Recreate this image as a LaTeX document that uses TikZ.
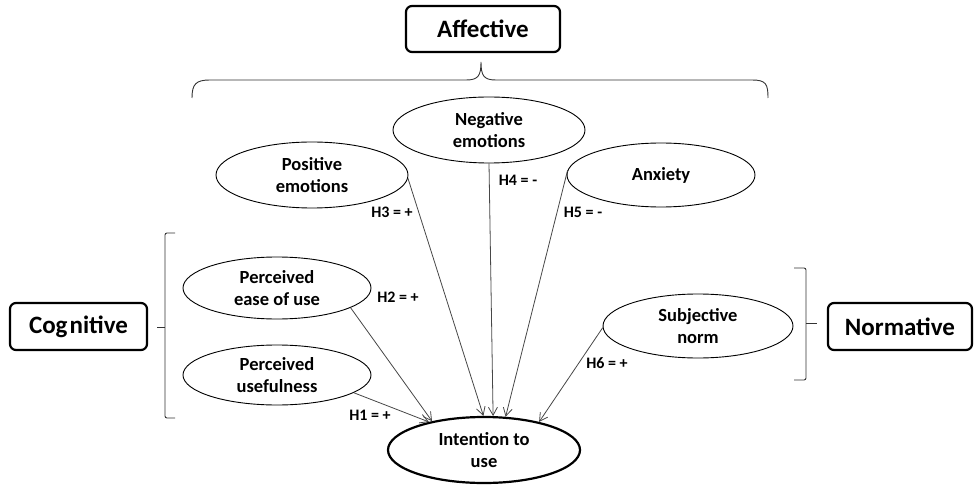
\documentclass[tikz,border=0pt]{standalone}
\usepackage{fontspec}
\setmainfont{Carlito}
\usetikzlibrary{arrows.meta,shapes.geometric}
\begin{document}
\begin{tikzpicture}[x=1pt,y=-1pt,
  group/.style={draw, line width=2.2pt, rounded corners=6pt, inner sep=0pt,
    font=\bfseries\fontsize{25}{29}\selectfont},
  factor/.style={draw, ellipse, line width=0.9pt, inner sep=0pt, align=center,
    font=\bfseries\fontsize{18.5}{22}\selectfont},
  hyp/.style={inner sep=0pt, font=\bfseries\fontsize{16}{18}\selectfont},
  link/.style={draw=black!72, line width=0.8pt, -{Straight Barb[length=8pt,width=9pt]}},
  bracket/.style={draw=black!80, line width=0.9pt}]
\useasboundingbox (0,0) rectangle (976,486);

% construct groups
\node[group, minimum width=154pt, minimum height=46pt] (aff) at (483,29) {Affective};
\node[group, minimum width=137pt, minimum height=47pt] (cog) at (78.5,326.5) {Cog\kern2pt nitive};
\node[group, minimum width=144pt, minimum height=47pt] (nor) at (900,326.5) {Normative};

% brace under the affective group
\draw[bracket] (192,98) .. controls (192,84) and (196,80) .. (210,80) -- (466,80)
  .. controls (478,80) and (481,76) .. (481,62)
  .. controls (481,76) and (484,80) .. (496,80) -- (752,80)
  .. controls (766,80) and (768,84) .. (768,98);

% bracket of the cognitive group
\draw[bracket, rounded corners=2pt] (175,233) -- (165,233) -- (165,418) -- (175,418);
\draw[bracket] (165,327) -- (157,327);

% bracket of the normative group
\draw[bracket, rounded corners=2pt] (794,268) -- (806,268) -- (806,380) -- (794,380);
\draw[bracket] (806,323) -- (817,323);

% factors
\node[factor, minimum width=192pt, minimum height=66pt] (pos)  at (312,175) {Positive\\emotions};
\node[factor, minimum width=192pt, minimum height=66pt] (neg)  at (489,130) {Negative\\emotions};
\node[factor, minimum width=188pt, minimum height=64pt] (anx)  at (661,175) {Anxiety};
\node[factor, minimum width=188pt, minimum height=62pt] (peou) at (277,288) {Perceived\\ease of use};
\node[factor, minimum width=188pt, minimum height=60pt] (pu)   at (277,375) {Perceived\\usefulness};
\node[factor, minimum width=190pt, minimum height=64pt] (sn)   at (698,326) {Subjective\\norm};
\node[factor, line width=2.2pt, minimum width=192pt, minimum height=66pt] (int) at (484,450) {Intention to\\use};

% hypothesised paths
\draw[link] (pos.-2)   -- (int.91);
\draw[link] (neg.-90)  -- (int.75);
\draw[link] (anx.177)  -- (int.57);
\draw[link] (peou.-15) -- (int.151);
\draw[link] (pu.-13)   -- (int.153);
\draw[link] (sn.181)   -- (int.27);

% hypothesis labels
\node[hyp] (h3) at (392,212) {H3 = +};
\node[hyp] (h4) at (518,180) {H4 = -};
\node[hyp] (h5) at (583,212) {H5 = -};
\node[hyp] (h2) at (398,297) {H2 = +};
\node[hyp] (h1) at (370,415) {H1 = +};
\node[hyp] (h6) at (607,363) {H6 = +};
\end{tikzpicture}
\end{document}
